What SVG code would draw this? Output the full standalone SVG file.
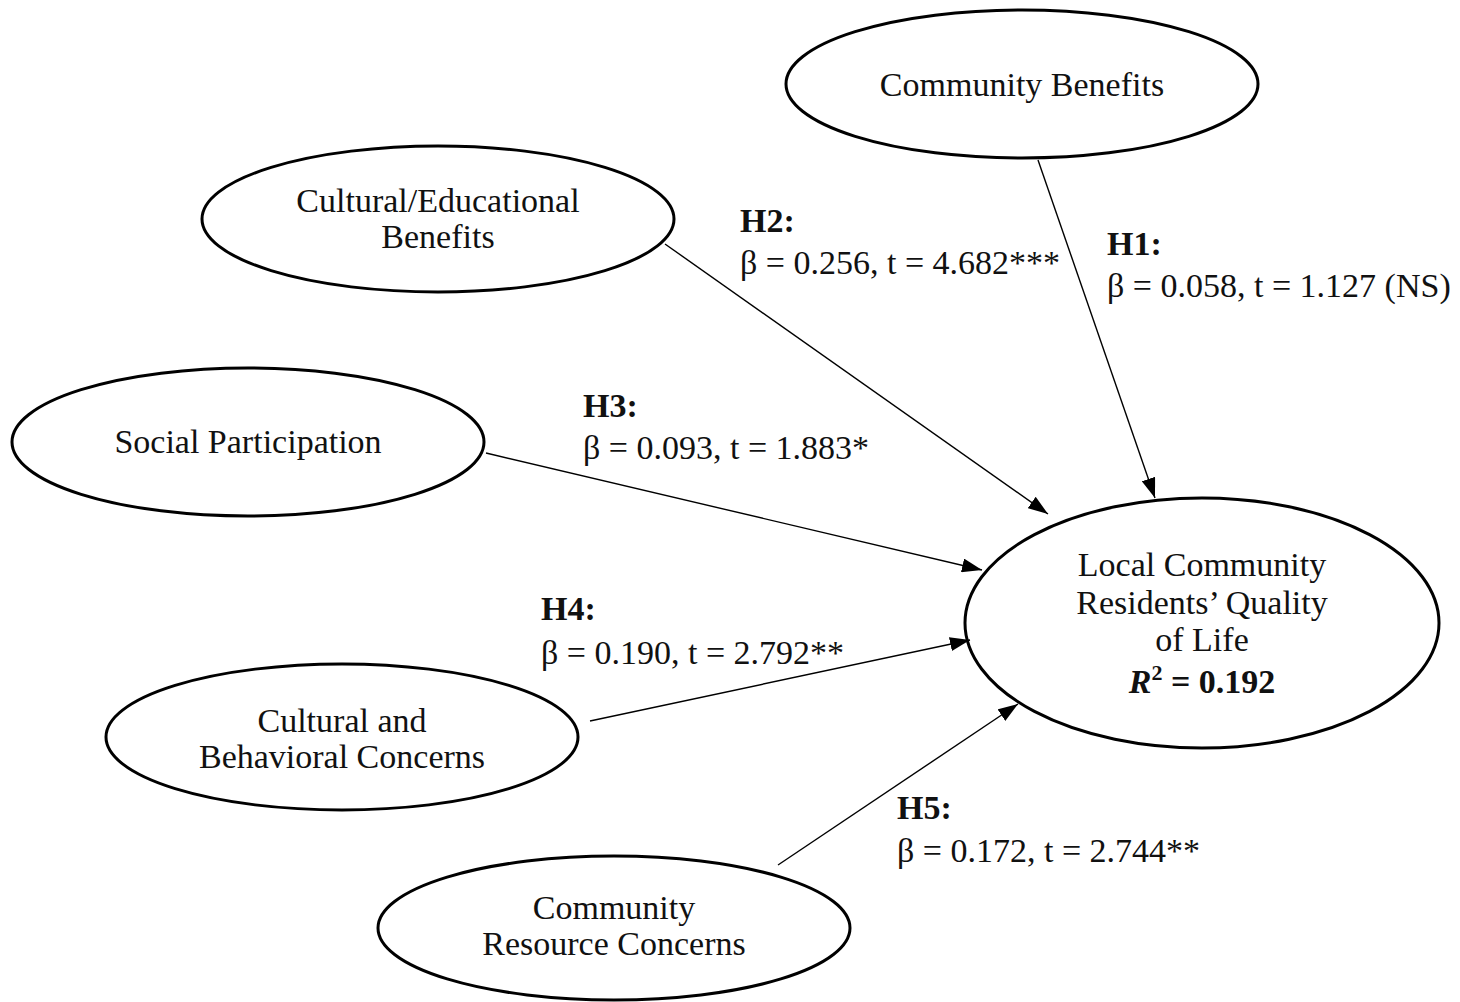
<svg xmlns="http://www.w3.org/2000/svg" width="1460" height="1002" viewBox="0 0 1460 1002">
<style>
.n{fill:#fff;stroke:#000;stroke-width:3}
.t{font-family:"Liberation Serif","Times New Roman",serif;font-size:34px;fill:#111;text-anchor:middle}
.l{font-family:"Liberation Serif","Times New Roman",serif;font-size:34px;fill:#111}
.b{font-weight:bold}
.c line{stroke:#000;stroke-width:1.4;marker-end:url(#ah)}
</style>
<defs>
<marker id="ah" viewBox="0 0 20 14" refX="20" refY="7" markerWidth="20" markerHeight="14" markerUnits="userSpaceOnUse" orient="auto">
<path d="M0,0 L20,7 L0,14 z" fill="#000"/>
</marker>
</defs>
<rect width="1460" height="1002" fill="#fff"/>
<g id="n-community-benefits"><ellipse class="n" cx="1022" cy="84" rx="236" ry="74"/><text class="t" x="1022" y="96">Community Benefits</text></g>
<g id="n-cultural-educational"><ellipse class="n" cx="438" cy="219" rx="236" ry="73"/><text class="t" x="438" y="212">Cultural/Educational</text><text class="t" x="438" y="248">Benefits</text></g>
<g id="n-social-participation"><ellipse class="n" cx="248" cy="442" rx="236" ry="74"/><text class="t" x="248" y="453">Social Participation</text></g>
<g id="n-cultural-behavioral"><ellipse class="n" cx="342" cy="737" rx="236" ry="73"/><text class="t" x="342" y="732">Cultural and</text><text class="t" x="342" y="768">Behavioral Concerns</text></g>
<g id="n-community-resource"><ellipse class="n" cx="614" cy="928" rx="236" ry="72"/><text class="t" x="614" y="919">Community</text><text class="t" x="614" y="955">Resource Concerns</text></g>
<g id="n-qol"><ellipse class="n" cx="1202" cy="623" rx="237" ry="125"/><text class="t" x="1202" y="576">Local Community</text><text class="t" x="1202" y="614">Residents’ Quality</text><text class="t" x="1202" y="651">of Life</text><text class="t b" x="1202" y="693"><tspan font-style="italic">R</tspan><tspan font-size="22" dy="-13">2</tspan><tspan dy="13"> = 0.192</tspan></text></g>
<g id="connectors" class="c">
<line x1="1038" y1="160" x2="1155" y2="498"/>
<line x1="665" y1="244" x2="1048" y2="514"/>
<line x1="486" y1="453" x2="982" y2="570"/>
<line x1="590" y1="721" x2="970" y2="640"/>
<line x1="778" y1="865" x2="1018" y2="704"/>
</g>
<g id="labels">
<text class="l b" x="740" y="232">H2:</text><text class="l" x="740" y="274">β = 0.256, t = 4.682***</text>
<text class="l b" x="1107" y="255">H1:</text><text class="l" x="1107" y="297">β = 0.058, t = 1.127 (NS)</text>
<text class="l b" x="583" y="417">H3:</text><text class="l" x="583" y="459">β = 0.093, t = 1.883*</text>
<text class="l b" x="541" y="620">H4:</text><text class="l" x="541" y="664">β = 0.190, t = 2.792**</text>
<text class="l b" x="897" y="819">H5:</text><text class="l" x="897" y="862">β = 0.172, t = 2.744**</text>
</g>
</svg>
